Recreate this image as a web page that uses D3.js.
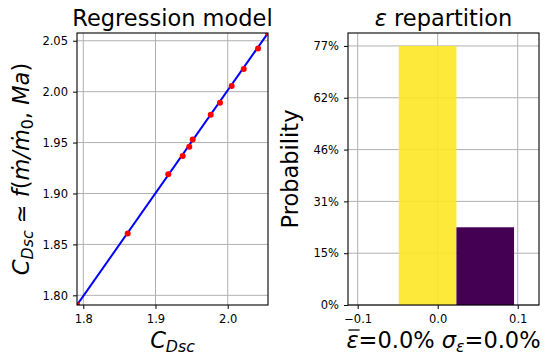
<!DOCTYPE html>
<html>
<head>
<meta charset="utf-8">
<script src="https://cdn.jsdelivr.net/npm/d3@7"></script>
<style>
  html, body { margin: 0; padding: 0; background: #fff; }
  svg { display: block; font-family: "DejaVu Sans", sans-serif; }
</style>
</head>
<body>
<svg id="chart" width="550" height="358"></svg>
<script>
// ---- Data ----
const measuredCDsc = [1.7913, 1.8615, 1.9177, 1.9377, 1.9468, 1.9515, 1.9765, 1.9893, 2.0055, 2.0222, 2.0420, 2.0558];
const modelCDsc    = [1.7905, 1.8608, 1.9188, 1.9368, 1.9460, 1.9531, 1.9774, 1.9892, 2.0056, 2.0223, 2.0425, 2.0576];
const lineX = [1.7913, 2.0558];
const lineY = [1.7905, 2.0576];
const regXTicks = [1.8, 1.9, 2.0];
const regXTickLabels = ["1.8", "1.9", "2.0"];
const regYTicks = [1.80, 1.85, 1.90, 1.95, 2.00, 2.05];
const regYTickLabels = ["1.80", "1.85", "1.90", "1.95", "2.00", "2.05"];

const binEdges = [-0.0486, 0.0234, 0.0954];
const binProb = [0.7692, 0.2308];
const binColors = ["#fde725", "#440154"];
const binOpacity = [0.9, 1];
const histXTicks = [-0.1, 0.0, 0.1];
const histXTickLabels = ["\u22120.1", "0.0", "0.1"];
const histYTicks = [0, 0.1538, 0.3077, 0.4615, 0.6154, 0.7692];
const histYTickLabels = ["0%", "15%", "31%", "46%", "62%", "77%"];

// ---- Layout ----
const svg = d3.select("#chart");
const tickFont = 11.5, bigFont = 22.5;
const gridColor = "#b0b0b0";

function panel(x0, x1, y0, y1) { return {x0, x1, y0, y1}; }
const L = panel(77, 268, 33, 305);
const R = panel(348, 539, 33, 305);

const defs = svg.append("defs");
defs.append("clipPath").attr("id", "clipL").append("rect")
  .attr("x", L.x0).attr("y", L.y0).attr("width", L.x1 - L.x0).attr("height", L.y1 - L.y0);

// ---- Left: regression ----
const xL = d3.scaleLinear().domain([1.7913, 2.0558]).range([L.x0, L.x1]);
const yL = d3.scaleLinear().domain([1.7905, 2.0576]).range([L.y1, L.y0]);

function drawGrid(p, xs, ys, xt, yt) {
  const g = svg.append("g");
  g.selectAll(".gx").data(xt).enter().append("line")
    .attr("x1", d => xs(d)).attr("x2", d => xs(d)).attr("y1", p.y0).attr("y2", p.y1)
    .attr("stroke", gridColor).attr("stroke-width", 1);
  g.selectAll(".gy").data(yt).enter().append("line")
    .attr("y1", d => ys(d)).attr("y2", d => ys(d)).attr("x1", p.x0).attr("x2", p.x1)
    .attr("stroke", gridColor).attr("stroke-width", 1);
  return g;
}
function drawFrame(p, xs, ys, xt, xtl, yt, ytl) {
  const g = svg.append("g");
  const xAxis = d3.axisBottom(xs).tickValues(xt).tickFormat((d, i) => xtl[i]).tickSize(4).tickPadding(6);
  const yAxis = d3.axisLeft(ys).tickValues(yt).tickFormat((d, i) => ytl[i]).tickSize(4).tickPadding(5);
  const gx = g.append("g").attr("transform", `translate(0,${p.y1})`).call(xAxis);
  const gy = g.append("g").attr("transform", `translate(${p.x0},0)`).call(yAxis);
  [gx, gy].forEach(a => {
    a.select(".domain").remove();
    a.selectAll(".tick line").attr("stroke", "#000").attr("stroke-width", 1);
    a.selectAll(".tick text").attr("fill", "#000").attr("font-size", tickFont)
      .attr("font-family", "DejaVu Sans");
  });
  g.append("rect").attr("x", p.x0).attr("y", p.y0).attr("width", p.x1 - p.x0).attr("height", p.y1 - p.y0)
    .attr("fill", "none").attr("stroke", "#000").attr("stroke-width", 1.1);
}

drawGrid(L, xL, yL, regXTicks, regYTicks);
const plotL = svg.append("g").attr("clip-path", "url(#clipL)");
plotL.append("path")
  .datum(lineX.map((x, i) => [x, lineY[i]]))
  .attr("d", d3.line().x(d => xL(d[0])).y(d => yL(d[1])))
  .attr("stroke", "#0000ff").attr("stroke-width", 2).attr("fill", "none");
plotL.selectAll("circle").data(measuredCDsc).enter().append("circle")
  .attr("cx", d => xL(d)).attr("cy", (d, i) => yL(modelCDsc[i])).attr("r", 3)
  .attr("fill", "#ff0000");
drawFrame(L, xL, yL, regXTicks, regXTickLabels, regYTicks, regYTickLabels);

// ---- Right: histogram ----
const xR = d3.scaleLinear().domain([-0.1121, 0.1266]).range([R.x0, R.x1]);
const yR = d3.scaleLinear().domain([0, 0.8077]).range([R.y1, R.y0]);
drawGrid(R, xR, yR, histXTicks, histYTicks);
svg.append("g").selectAll("rect").data(binProb).enter().append("rect")
  .attr("x", (d, i) => xR(binEdges[i]))
  .attr("width", (d, i) => xR(binEdges[i + 1]) - xR(binEdges[i]))
  .attr("y", d => yR(d)).attr("height", d => yR(0) - yR(d))
  .attr("fill", (d, i) => binColors[i]).attr("fill-opacity", (d, i) => binOpacity[i]);
drawFrame(R, xR, yR, histXTicks, histXTickLabels, histYTicks, histYTickLabels);

// ---- Titles & labels ----
const cxL = (L.x0 + L.x1) / 2, cxR = (R.x0 + R.x1) / 2;
const cy = (L.y0 + L.y1) / 2;

svg.append("text").attr("x", cxL).attr("y", 26).attr("text-anchor", "middle")
  .attr("font-size", bigFont).text("Regression model");

const t2 = svg.append("text").attr("x", cxR).attr("y", 26).attr("text-anchor", "middle")
  .attr("font-size", bigFont);
t2.append("tspan").attr("font-style", "italic").text("\u03b5");
t2.append("tspan").text(" repartition");

// left y label
const yl = svg.append("text").attr("transform", `translate(29,${cy}) rotate(-90)`)
  .attr("text-anchor", "middle").attr("font-size", bigFont);
yl.append("tspan").attr("font-style", "italic").text("C");
yl.append("tspan").attr("font-style", "italic").attr("font-size", bigFont * 0.7).attr("dy", 4).text("Dsc");
yl.append("tspan").attr("dy", -4).text(" \u2243 ");
yl.append("tspan").attr("font-style", "italic").text("f");
yl.append("tspan").text("(");
yl.append("tspan").attr("font-style", "italic").text("\u1e41/\u1e41");
yl.append("tspan").attr("font-size", bigFont * 0.7).attr("dy", 4).text("0");
yl.append("tspan").attr("dy", -4).text(", ");
yl.append("tspan").attr("font-style", "italic").text("Ma");
yl.append("tspan").text(")");

// left x label
const xl = svg.append("text").attr("x", cxL).attr("y", 348).attr("text-anchor", "middle")
  .attr("font-size", bigFont);
xl.append("tspan").attr("font-style", "italic").text("C");
xl.append("tspan").attr("font-style", "italic").attr("font-size", bigFont * 0.7).attr("dy", 4).text("Dsc");

// right y label
svg.append("text").attr("transform", `translate(298,${cy}) rotate(-90)`)
  .attr("text-anchor", "middle").attr("font-size", bigFont).text("Probability");

// right x label
const xr = svg.append("text").attr("x", cxR).attr("y", 348).attr("text-anchor", "middle")
  .attr("font-size", bigFont);
xr.append("tspan").attr("font-style", "italic").text("\u03b5");
xr.append("tspan").text("=0.0% ");
xr.append("tspan").attr("font-style", "italic").text("\u03c3");
xr.append("tspan").attr("font-style", "italic").attr("font-size", bigFont * 0.7).attr("dy", 4).text("\u03b5");
xr.append("tspan").attr("dy", -4).text("=0.0%");
// overline over the first epsilon
const ext = xr.node().getExtentOfChar(0);
svg.append("line")
  .attr("x1", ext.x + 2).attr("x2", ext.x + ext.width + 1)
  .attr("y1", 348 - 18).attr("y2", 348 - 18)
  .attr("stroke", "#000").attr("stroke-width", 1.3);
</script>
</body>
</html>
